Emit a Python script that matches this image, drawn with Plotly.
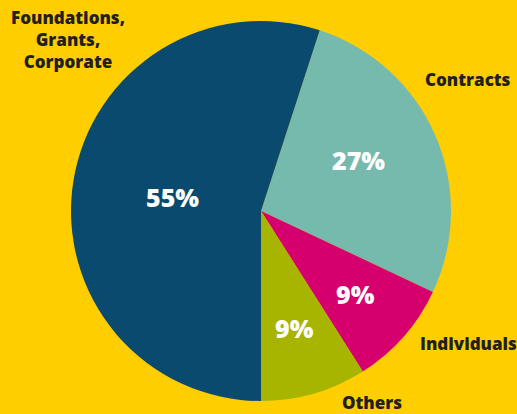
import math
import plotly.graph_objects as go

labels = ["Contracts", "Individuals", "Others", "Foundations, Grants, Corporate"]
values = [27, 9, 9, 55]
colors = ["#76B9AD", "#D5006D", "#A7B500", "#0A4A6E"]
pct_text = ["27%", "9%", "9%", "55%"]

W, H = 517, 414
cx, cy, r = 261, 211, 190
start_deg = 18
label_radius = [0.58, 0.66, 0.64, 0.47]  # fraction of radius where % labels sit
label_shift = [-4, 0, 0, 0]  # degrees shift of % labels from slice mid-angle

fig = go.Figure(go.Pie(
    labels=labels,
    values=values,
    textinfo="none",
    sort=False,
    direction="clockwise",
    rotation=start_deg,
    marker=dict(colors=colors, line=dict(width=0)),
    showlegend=False,
    hoverinfo="label+percent",
    domain=dict(x=[(cx - r) / W, (cx + r) / W], y=[(H - cy - r) / H, (H - cy + r) / H]),
))

font_family = "Open Sans"
pct_font = dict(family=font_family, size=25, color="white", weight=800)
dark = "#231F20"
lab_font = dict(family=font_family, size=17, color=dark, weight=800)

annotations = []
total = sum(values)
cum = 0
for v, t, fr, sh in zip(values, pct_text, label_radius, label_shift):
    mid = math.radians(start_deg + (cum + v / 2) / total * 360 + sh)
    cum += v
    px = cx + fr * r * math.sin(mid)
    py = cy - fr * r * math.cos(mid)
    annotations.append(dict(text=t, x=px / W, y=1 - py / H, xref="paper", yref="paper",
                            showarrow=False, font=pct_font, xanchor="center", yanchor="middle"))

outside = [
    dict(text="Foundations,<br>Grants,<br>Corporate", x=68, y=40),
    dict(text="Contracts", x=468, y=80),
    dict(text="Individuals", x=468, y=343),
    dict(text="Others", x=372, y=402),
]
for a in outside:
    annotations.append(dict(text=a["text"], x=a["x"] / W, y=1 - a["y"] / H, xref="paper", yref="paper",
                            showarrow=False, font=lab_font, align="center",
                            xanchor="center", yanchor="middle"))

fig.update_layout(
    width=W, height=H,
    margin=dict(l=0, r=0, t=0, b=0),
    paper_bgcolor="#FFCE00",
    plot_bgcolor="#FFCE00",
    annotations=annotations,
)
fig.write_html("out.html", config={"displayModeBar": False},
               post_script="document.body.style.margin='0';document.body.style.background='#FFCE00';")
